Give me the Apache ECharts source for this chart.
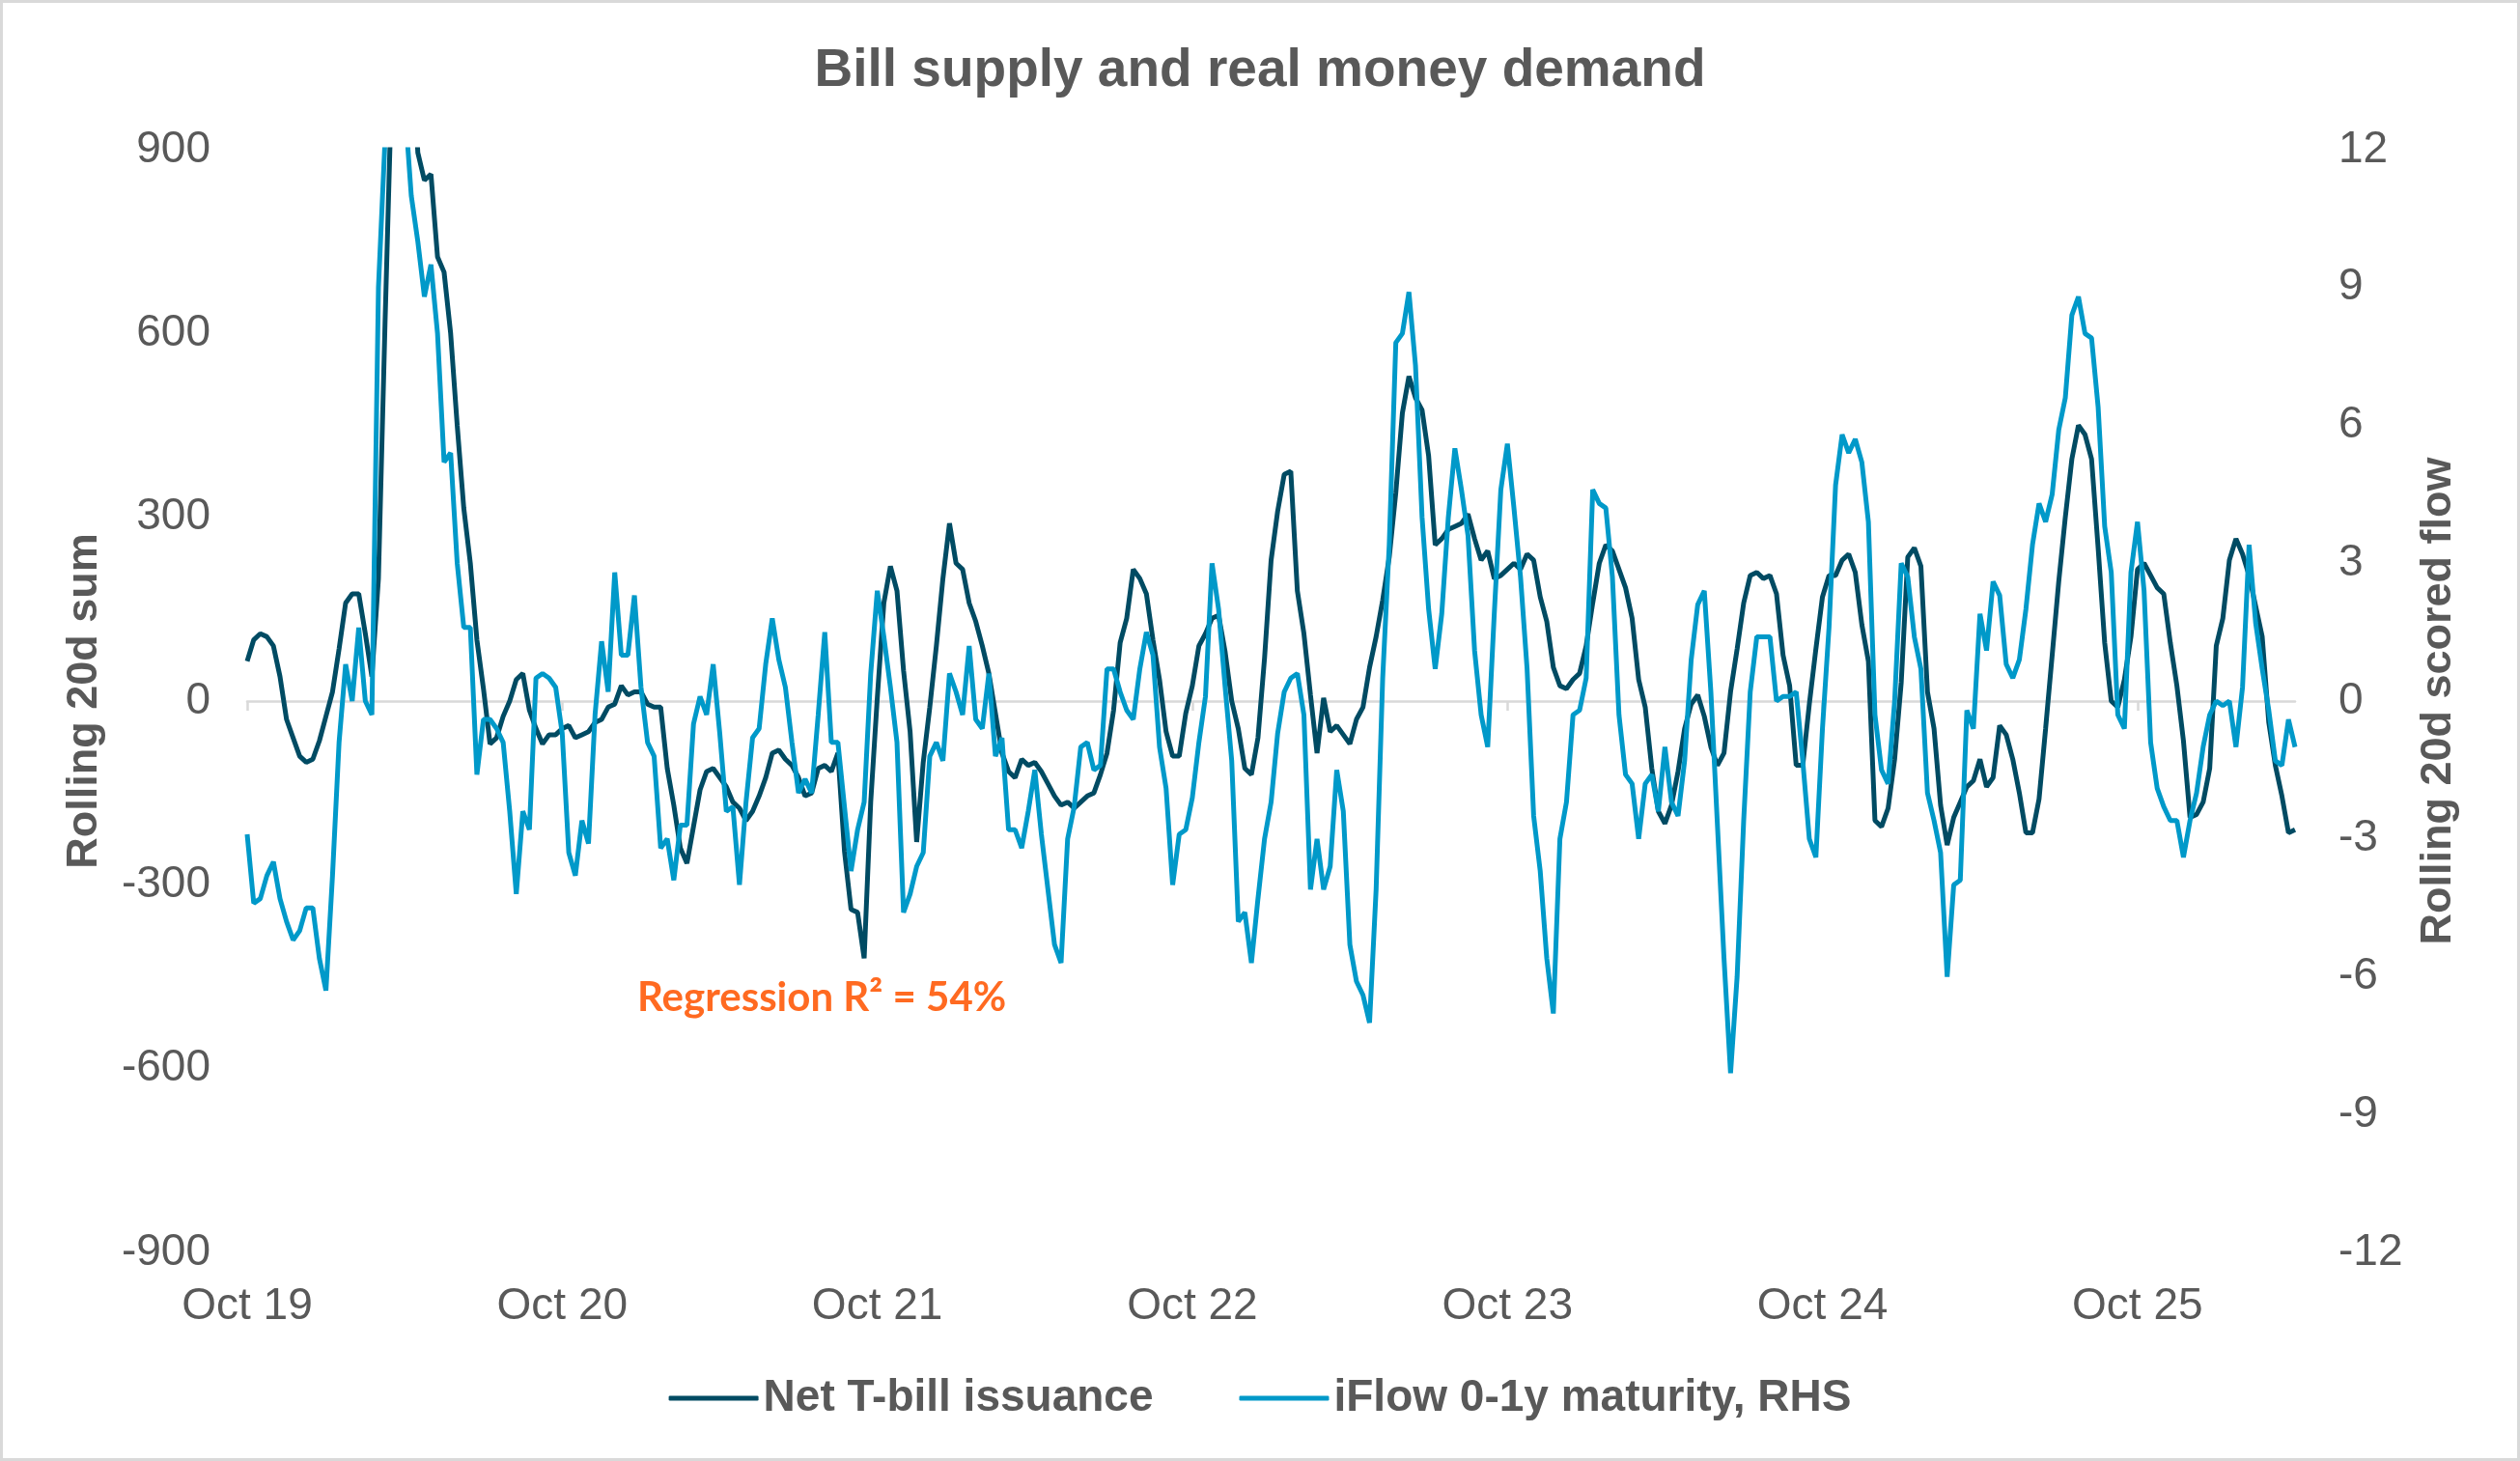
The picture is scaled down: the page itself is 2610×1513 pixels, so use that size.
<!DOCTYPE html>
<html>
<head>
<meta charset="utf-8">
<script src="https://cdn.jsdelivr.net/npm/echarts@6/dist/echarts.min.js"></script>
<style>
html,body{margin:0;padding:0;background:#fff;}
#chart{width:2610px;height:1513px;}
</style>
</head>
<body>
<div id="chart"></div>
<script>
// x-axis tick labels (one per year, every 48 samples)
const tickLabels = ['Oct 19','Oct 20','Oct 21','Oct 22','Oct 23','Oct 24','Oct 25'];
const pointsPerYear = 48;

// Net T-bill issuance, rolling 20d sum (LHS)
const netBill = [
65,100,110,105,90,40,-30,-60,-90,-100,-95,-65,-25,15,85,160,175,175,110,40,
200,615,1000,1100,1200,1100,895,850,860,725,700,600,450,315,225,100,20,-70,-60,-25,
0,35,45,-15,-45,-70,-55,-55,-45,-40,-60,-55,-50,-35,-30,-10,-5,25,10,15,
15,-5,-10,-10,-110,-170,-240,-265,-205,-145,-115,-110,-125,-140,-165,-175,-195,-180,-155,-125,
-85,-80,-95,-105,-125,-155,-150,-110,-105,-115,-85,-245,-340,-345,-420,-165,5,160,220,180,
50,-50,-230,-100,-10,90,200,290,225,215,160,130,90,45,-20,-85,-115,-125,-95,-105,
-100,-115,-135,-155,-170,-165,-175,-165,-155,-150,-120,-85,-15,95,135,215,200,175,100,35,
-50,-90,-90,-20,25,90,110,135,140,80,0,-45,-110,-120,-60,70,230,310,370,375,
180,110,10,-85,5,-50,-40,-55,-70,-30,-10,55,105,165,235,340,470,530,495,475,
400,255,265,280,285,290,305,265,230,245,200,205,215,225,215,240,230,170,130,55,
25,20,35,45,90,160,225,255,245,215,185,135,35,-10,-110,-180,-200,-170,-115,-45,
-5,10,-25,-75,-105,-85,15,85,160,205,210,200,205,175,75,25,-105,-105,-5,85,
170,205,205,230,240,210,125,65,-195,-205,-175,-95,30,235,250,220,15,-45,-170,-235,
-190,-165,-140,-130,-95,-140,-125,-40,-55,-95,-150,-215,-215,-160,-45,75,195,300,395,450,
435,395,250,95,0,-10,35,105,215,225,205,185,175,95,25,-65,-190,-185,-165,-110,
90,135,230,265,240,205,155,105,-35,-105,-155,-215,-210
];

// iFlow 0-1y maturity, rolling 20d scored flow (RHS)
const iFlow = [
-2.9,-4.4,-4.3,-3.8,-3.5,-4.3,-4.8,-5.2,-5.0,-4.5,-4.5,-5.6,-6.3,-3.8,-0.9,0.8,0,1.6,0,-0.3,
9.0,12.2,13,14,13,11,10,8.8,9.5,8,5.2,5.4,3,1.6,1.6,-1.6,-0.4,-0.4,-0.6,-0.9,
-2.4,-4.2,-2.4,-2.8,0.5,0.6,0.5,0.3,-0.7,-3.3,-3.8,-2.6,-3.1,-0.3,1.3,0.2,2.8,1.0,1.0,2.3,
0.3,-0.9,-1.2,-3.2,-3.0,-3.9,-2.7,-2.7,-0.5,0.1,-0.3,0.8,-0.7,-2.4,-2.3,-4.0,-2.2,-0.8,-0.6,0.8,
1.8,0.9,0.3,-0.9,-2.0,-1.7,-2.0,-0.3,1.5,-0.9,-0.9,-2.3,-3.7,-2.8,-2.2,0.6,2.4,1.4,0.3,-0.9,
-4.6,-4.2,-3.6,-3.3,-1.2,-0.9,-1.3,0.6,0.2,-0.3,1.2,-0.4,-0.6,0.6,-1.2,-0.8,-2.8,-2.8,-3.2,-2.4,
-1.5,-2.9,-4.1,-5.3,-5.7,-3.0,-2.3,-1.0,-0.9,-1.5,-1.4,0.7,0.7,0.2,-0.2,-0.4,0.7,1.5,1.0,-1.0,
-1.9,-4.0,-2.9,-2.8,-2.1,-0.9,0.1,3.0,2.0,0.3,-1.3,-4.8,-4.6,-5.7,-4.3,-3.0,-2.2,-0.7,0.2,0.5,
0.6,-0.3,-4.1,-3.0,-4.1,-3.6,-1.5,-2.4,-5.3,-6.1,-6.4,-7.0,-4.1,0.5,3.4,7.8,8.0,8.9,7.3,4.0,
2.0,0.7,1.9,4.0,5.5,4.6,3.6,1.1,-0.3,-1.0,1.9,4.6,5.6,4.2,2.7,0.7,-2.5,-3.7,-5.6,-6.8,
-3.0,-2.2,-0.3,-0.2,0.5,4.6,4.3,4.2,2.7,-0.3,-1.6,-1.8,-3.0,-1.8,-1.6,-2.4,-1.0,-2.2,-2.5,-1.3,
0.9,2.1,2.4,0.2,-2.7,-5.6,-8.1,-6.0,-2.6,0.2,1.4,1.4,1.4,0,0.1,0.1,0.2,-1.3,-3.0,-3.4,
-0.6,1.6,4.7,5.8,5.4,5.7,5.2,3.9,-0.3,-1.5,-1.8,0,3.0,2.7,1.4,0.7,-2.0,-2.6,-3.3,-6.0,
-4.0,-3.9,-0.2,-0.6,1.9,1.1,2.6,2.3,0.8,0.5,0.9,2.0,3.4,4.3,3.9,4.5,5.9,6.6,8.4,8.8,
8.0,7.9,6.4,3.8,2.8,-0.3,-0.6,2.8,3.9,2.4,-0.9,-1.9,-2.3,-2.6,-2.6,-3.4,-2.6,-2.0,-1.0,-0.3,
0,-0.1,0,-1.0,0.3,3.4,1.7,0.7,-0.2,-1.3,-1.4,-0.4,-1.0
];

const seriesNames = ['Net T-bill issuance', 'iFlow 0-1y maturity, RHS'];

// category positions (sample index); labels drawn only at year starts
const categories = netBill.map((_, i) => String(i));

const FONT = "'Liberation Sans', Arial, sans-serif";
const GREY = '#595959';
const DARK = '#004B63';
const LIGHT = '#0099C9';

const chart = echarts.init(document.getElementById('chart'), null, {renderer: 'canvas'});
const isYearStart = (i) => i % pointsPerYear === 0;

chart.setOption({
  animation: false,
  backgroundColor: '#ffffff',
  title: {
    text: 'Bill supply and real money demand',
    left: 'center', top: 41,
    textStyle: {fontFamily: FONT, fontSize: 55, fontWeight: 'bold', color: GREY}
  },
  grid: {left: 256, right: 233, top: 155, bottom: 216, containLabel: false},
  legend: {
    data: seriesNames,
    left: 'center', top: 1420,
    icon: 'roundRect', itemWidth: 93, itemHeight: 5, itemGap: 89,
    textStyle: {fontFamily: FONT, fontSize: 46, fontWeight: 'bold', color: GREY}
  },
  xAxis: [
    {
      type: 'category', data: categories, boundaryGap: false, position: 'bottom',
      axisLine: {show: false, onZero: false},
      axisTick: {show: false},
      splitLine: {show: false},
      axisLabel: {
        interval: (i) => isYearStart(i),
        formatter: (v, i) => tickLabels[Math.round(i / pointsPerYear)] || '',
        margin: 33, fontFamily: FONT, fontSize: 46, color: GREY
      }
    },
    {
      type: 'category', data: categories, boundaryGap: false, position: 'bottom',
      axisLine: {show: true, onZero: true, lineStyle: {color: '#D9D9D9', width: 2.5}},
      axisTick: {show: true, interval: (i) => isYearStart(i), length: 10, lineStyle: {color: '#D9D9D9', width: 2.5}},
      axisLabel: {show: false},
      splitLine: {show: false}
    }
  ],
  yAxis: [
    {
      type: 'value', min: -900, max: 900, interval: 300, position: 'left',
      axisLine: {show: false}, axisTick: {show: false}, splitLine: {show: false},
      axisLabel: {margin: 38, padding: [7, 0, 0, 0], fontFamily: FONT, fontSize: 46, color: GREY},
      name: 'Rolling 20d sum', nameLocation: 'middle', nameGap: 146,
      nameTextStyle: {fontFamily: FONT, fontSize: 45, fontWeight: 'bold', color: GREY}
    },
    {
      type: 'value', min: -12, max: 12, interval: 3, position: 'right',
      axisLine: {show: false}, axisTick: {show: false}, splitLine: {show: false},
      axisLabel: {margin: 45, padding: [7, 0, 0, 0], fontFamily: FONT, fontSize: 46, color: GREY},
      name: 'Rolling 20d scored flow', nameLocation: 'middle', nameGap: 126,
      nameTextStyle: {fontFamily: FONT, fontSize: 45, fontWeight: 'bold', color: GREY}
    }
  ],
  graphic: [
    {
      type: 'rect', silent: true,
      shape: {x: 1.5, y: 1.5, width: 2607, height: 1510},
      style: {fill: 'none', stroke: '#D9D9D9', lineWidth: 3}
    },
    {
      type: 'text', left: 660, top: 1012, silent: true,
      style: {text: 'Regression R² = 54%', font: "bold 42px Lato, 'Open Sans', sans-serif", fill: '#FF6A21'}
    }
  ],
  series: [
    {
      name: seriesNames[0], type: 'line', xAxisIndex: 0, yAxisIndex: 0,
      data: netBill, showSymbol: false, symbol: 'none', clip: true,
      lineStyle: {color: DARK, width: 5}, itemStyle: {color: DARK}, z: 2
    },
    {
      name: seriesNames[1], type: 'line', xAxisIndex: 0, yAxisIndex: 1,
      data: iFlow, showSymbol: false, symbol: 'none', clip: true,
      lineStyle: {color: LIGHT, width: 5}, itemStyle: {color: LIGHT}, z: 3
    }
  ]
});
</script>
</body>
</html>
